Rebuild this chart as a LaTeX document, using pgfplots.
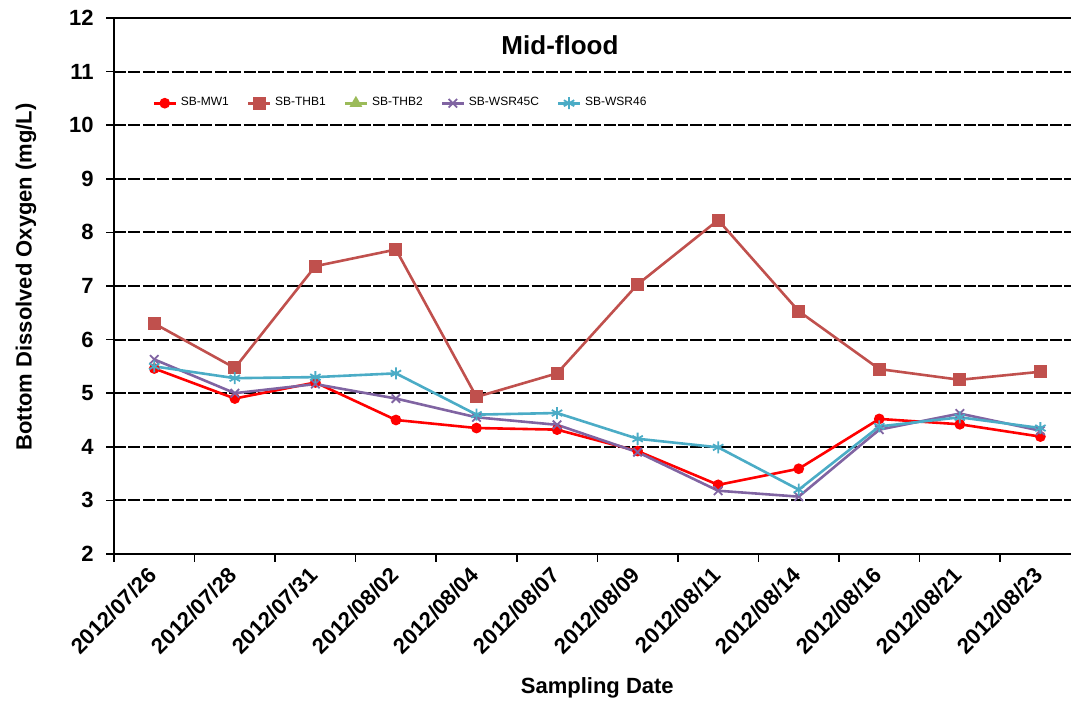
\documentclass[border=0pt]{standalone}
\usepackage{pgfplots}
\pgfplotsset{compat=1.18}
\usepackage{fontspec}
\setmainfont{Liberation Sans}
\definecolor{mwone}{RGB}{255,0,0}
\definecolor{thbone}{RGB}{192,80,77}
\definecolor{thbtwo}{RGB}{155,187,89}
\definecolor{wsrc}{RGB}{128,100,162}
\definecolor{wsrs}{RGB}{75,172,198}
\begin{document}
\begin{tikzpicture}
\begin{axis}[
  name=ax,
  scale only axis,
  width=478.5pt, height=268pt,
  xmin=-0.5, xmax=11.38,
  ymin=2, ymax=12,
  ytick={2,3,...,12},
  xtick={0,...,11},
  xticklabels={2012/07/26,2012/07/28,2012/07/31,2012/08/02,2012/08/04,2012/08/07,2012/08/09,2012/08/11,2012/08/14,2012/08/16,2012/08/21,2012/08/23},
  minor xtick={-0.5,0.5,...,11.5},
  major x tick style={draw=none},
  minor x tick style={black, line width=0.8pt},
  minor tick length=4pt,
  y tick style={black, line width=0.8pt},
  major tick length=4pt,
  tick align=outside,
  axis x line*=bottom, axis y line*=left,
  axis line style={-, black, line width=1.4pt},
  ymajorgrids,
  major grid style={black, line width=1pt, dash pattern=on 6pt off 1.2pt},
  /pgf/number format/assume math mode=true,
  ticklabel style={font=\fontsize{11}{13}\selectfont\bfseries},
  xticklabel style={rotate=45, anchor=east, inner sep=1pt},
  xticklabel shift=4pt,
  yticklabel style={inner sep=1pt},
  yticklabel shift=5pt,
  every axis y label/.style={at={(rel axis cs:0,0.517)}, xshift=-44pt, rotate=90, anchor=center, font=\fontsize{11}{13}\selectfont\bfseries},
  every axis x label/.style={at={(rel axis cs:0.505,0)}, yshift=-67pt, anchor=center, font=\fontsize{11}{13}\selectfont\bfseries},
  ylabel={Bottom Dissolved Oxygen (mg/L)},
  xlabel={Sampling Date},
  legend style={at={(rel axis cs:0.04,0.841)}, anchor=west, draw=none, fill=none,
    font=\fontsize{6}{7}\selectfont, inner sep=0pt,
    /tikz/every even column/.style={column sep=7pt}},
  legend columns=5,
  legend image code/.code={\draw[mark repeat=2,mark phase=2,#1] plot coordinates {(0cm,0cm) (0.19cm,0cm) (0.38cm,0cm)};},
  every axis plot/.append style={line width=1.3pt},
  clip=false,
]
\addplot[color=mwone, mark=*, mark size=2pt, mark options={solid}] coordinates {
(0,5.46) (1,4.9) (2,5.2) (3,4.5) (4,4.35) (5,4.32) (6,3.92) (7,3.29) (8,3.59) (9,4.52) (10,4.42) (11,4.19)};
\addlegendentry{SB-MW1}
\addplot[color=thbone, mark=square*, mark size=2.6pt, mark options={solid}] coordinates {
(0,6.3) (1,5.47) (2,7.37) (3,7.68) (4,4.93) (5,5.37) (6,7.03) (7,8.23) (8,6.53) (9,5.45) (10,5.25) (11,5.4)};
\addlegendentry{SB-THB1}
\addlegendimage{color=thbtwo, mark=triangle*, mark size=2.4pt, line width=1.3pt}
\addlegendentry{SB-THB2}
\addplot[color=wsrc, mark=x, mark size=3pt, mark options={solid, line width=0.9pt}] coordinates {
(0,5.63) (1,5.0) (2,5.17) (3,4.9) (4,4.55) (5,4.41) (6,3.9) (7,3.18) (8,3.07) (9,4.32) (10,4.62) (11,4.3)};
\addlegendentry{SB-WSR45C}
\addplot[color=wsrs, mark=asterisk, mark size=3pt, mark options={solid, line width=0.9pt}] coordinates {
(0,5.5) (1,5.28) (2,5.3) (3,5.37) (4,4.6) (5,4.63) (6,4.15) (7,3.99) (8,3.2) (9,4.38) (10,4.55) (11,4.35)};
\addlegendentry{SB-WSR46}
\draw[black, line width=1pt] (rel axis cs:0,1) -- (rel axis cs:1,1);
\node[font=\fontsize{13}{15}\selectfont\bfseries] at (rel axis cs:0.466,0.95) {Mid-flood};
\end{axis}
\pgfresetboundingbox
\path[use as bounding box] ([shift={(-57pt,-75pt)}]ax.south west) rectangle ([shift={(478.5pt,277pt)}]ax.south west);
\end{tikzpicture}
\end{document}
